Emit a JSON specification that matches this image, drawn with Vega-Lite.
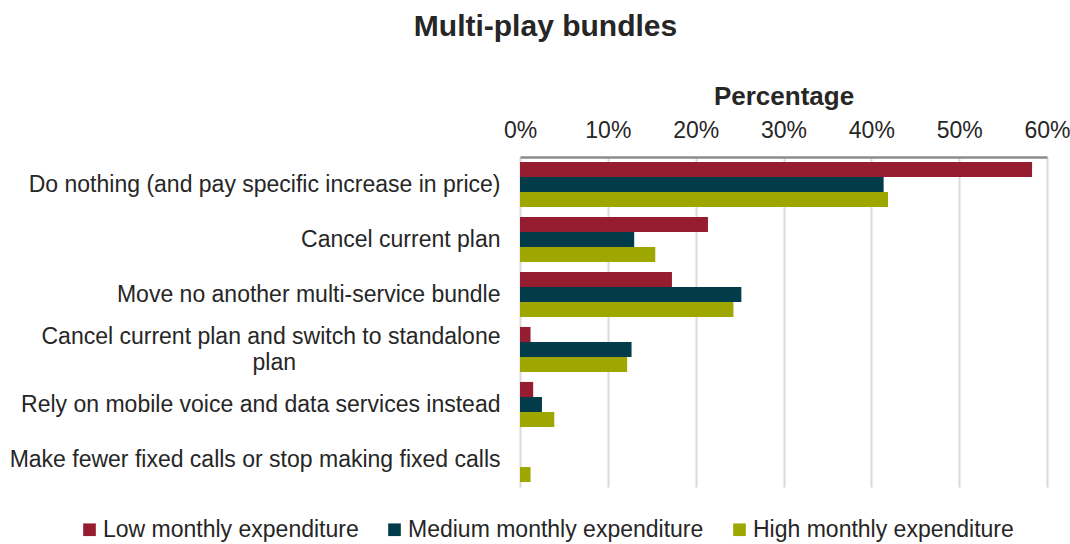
{
  "$schema": "https://vega.github.io/schema/vega-lite/v6.json",
  "autosize": {"type": "none"},
  "width": 527,
  "height": 330,
  "padding": {"left": 520, "top": 157, "right": 23, "bottom": 57},
  "background": "white",
  "title": {
    "text": "Multi-play bundles",
    "font": "Liberation Sans",
    "fontSize": 30,
    "fontWeight": "bold",
    "color": "#262626",
    "anchor": "middle",
    "dx": -238,
    "offset": 41
  },
  "data": {
    "values": [
      {"category": "Do nothing (and pay specific increase in price)", "series": "Low monthly expenditure", "value": 58.3},
      {"category": "Do nothing (and pay specific increase in price)", "series": "Medium monthly expenditure", "value": 41.4},
      {"category": "Do nothing (and pay specific increase in price)", "series": "High monthly expenditure", "value": 41.9},
      {"category": "Cancel current plan", "series": "Low monthly expenditure", "value": 21.4},
      {"category": "Cancel current plan", "series": "Medium monthly expenditure", "value": 13.0},
      {"category": "Cancel current plan", "series": "High monthly expenditure", "value": 15.4},
      {"category": "Move no another multi-service bundle", "series": "Low monthly expenditure", "value": 17.3},
      {"category": "Move no another multi-service bundle", "series": "Medium monthly expenditure", "value": 25.2},
      {"category": "Move no another multi-service bundle", "series": "High monthly expenditure", "value": 24.3},
      {"category": "Cancel current plan and switch to standalone plan", "series": "Low monthly expenditure", "value": 1.2},
      {"category": "Cancel current plan and switch to standalone plan", "series": "Medium monthly expenditure", "value": 12.7},
      {"category": "Cancel current plan and switch to standalone plan", "series": "High monthly expenditure", "value": 12.2},
      {"category": "Rely on mobile voice and data services instead", "series": "Low monthly expenditure", "value": 1.5},
      {"category": "Rely on mobile voice and data services instead", "series": "Medium monthly expenditure", "value": 2.5},
      {"category": "Rely on mobile voice and data services instead", "series": "High monthly expenditure", "value": 3.9},
      {"category": "Make fewer fixed calls or stop making fixed calls", "series": "Low monthly expenditure", "value": 0},
      {"category": "Make fewer fixed calls or stop making fixed calls", "series": "Medium monthly expenditure", "value": 0},
      {"category": "Make fewer fixed calls or stop making fixed calls", "series": "High monthly expenditure", "value": 1.2}
    ]
  },
  "mark": {"type": "bar"},
  "encoding": {
    "y": {
      "field": "category",
      "type": "nominal",
      "sort": null,
      "scale": {"paddingInner": 0.18, "paddingOuter": 0.09},
      "axis": {
        "title": null,
        "domain": false,
        "ticks": false,
        "labelFont": "Liberation Sans",
        "labelFontSize": 23,
        "labelColor": "#262626",
        "labelPadding": 20,
        "labelLimit": 0,
        "labelLineHeight": 26,
        "labelOffset": {"condition": {"test": "datum.label == 'Cancel current plan and switch to standalone plan'", "value": -13}, "value": 0},
        "labelExpr": "datum.label == 'Cancel current plan and switch to standalone plan' ? ['Cancel current plan and switch to standalone', 'plan\u00a0\u00a0\u00a0\u00a0\u00a0\u00a0\u00a0\u00a0\u00a0\u00a0\u00a0\u00a0\u00a0\u00a0\u00a0\u00a0\u00a0\u00a0\u00a0\u00a0\u00a0\u00a0\u00a0\u00a0\u00a0\u00a0\u00a0\u00a0\u00a0\u00a0\u00a0\u00a0\u200b'] : datum.label"
      }
    },
    "yOffset": {
      "field": "series",
      "type": "nominal",
      "sort": ["Low monthly expenditure", "Medium monthly expenditure", "High monthly expenditure"],
      "scale": {"paddingInner": 0, "paddingOuter": 0}
    },
    "x": {
      "field": "value",
      "type": "quantitative",
      "scale": {"domain": [0, 60], "nice": false},
      "axis": {
        "orient": "top",
        "title": "Percentage",
        "titleFont": "Liberation Sans",
        "titleFontSize": 26,
        "titleFontWeight": "bold",
        "titleColor": "#262626",
        "titlePadding": 10,
        "values": [0, 10, 20, 30, 40, 50, 60],
        "labelExpr": "datum.value + '%'",
        "labelFlush": false,
        "labelFont": "Liberation Sans",
        "labelFontSize": 23,
        "labelColor": "#262626",
        "labelPadding": 15,
        "ticks": false,
        "domainColor": "#8C8C8C",
        "domainWidth": 2.5,
        "grid": true,
        "gridColor": "#DDDAD7",
        "gridWidth": 2
      }
    },
    "color": {
      "field": "series",
      "type": "nominal",
      "sort": ["Low monthly expenditure", "Medium monthly expenditure", "High monthly expenditure"],
      "scale": {
        "domain": ["Low monthly expenditure", "Medium monthly expenditure", "High monthly expenditure"],
        "range": ["#961C30", "#023B4A", "#9DA700"]
      },
      "legend": {
        "title": null,
        "orient": "none",
        "direction": "horizontal",
        "columns": 3,
        "legendX": -442,
        "legendY": 361,
        "symbolType": "square",
        "symbolSize": 160,
        "symbolStrokeWidth": 0,
        "labelFont": "Liberation Sans",
        "labelFontSize": 23,
        "labelColor": "#262626",
        "labelLimit": 0,
        "columnPadding": 24,
        "labelOffset": 2
      }
    }
  },
  "config": {"view": {"stroke": null}}
}
